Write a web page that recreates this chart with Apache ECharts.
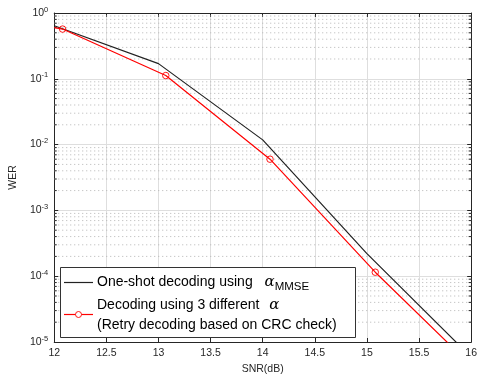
<!DOCTYPE html>
<html><head><meta charset="utf-8">
<script src="https://cdn.jsdelivr.net/npm/echarts@6/dist/echarts.min.js"></script>
<style>html,body{margin:0;padding:0;background:#fff}#c{width:480px;height:380px}</style>
</head><body><div id="c"></div>
<script>
var xTicks = [12, 12.5, 13, 13.5, 14, 14.5, 15, 15.5, 16];
var yDecades = [1e-5, 1e-4, 1e-3, 1e-2, 1e-1, 1];
var minorSteps = [2, 3, 4, 5, 6, 7, 8, 9];
var oneShotSNR = [12, 13, 14, 15, 16];
var oneShotWER = [0.64, 0.17, 0.0118, 2.2e-4, 5.9e-6];
var retrySNR = [12.0, 12.08, 13.07, 14.07, 15.08, 16.08];
var retryWER = [0.60, 0.57, 0.112, 0.0060, 1.15e-4, 3.3e-6];
var name1 = 'One-shot decoding using α_MMSE';
var name2 = 'Decoding using 3 different α';

var minorVals = [];
for (var d = 0; d < yDecades.length - 1; d++) {
  for (var m = 0; m < minorSteps.length; m++) minorVals.push([yDecades[d] * minorSteps[m]]);
}
var axisColor = '#262626';
var font = 'Liberation Sans, Arial, sans-serif';
var lfs = 14;

var chart = echarts.init(document.getElementById('c'), null, {renderer: 'canvas'});
var supLabel = function (v) {
  var e = Math.round(Math.log10(v));
  return '{b|10}{s|' + e + '}';
};
var richY = {
  b: {fontSize: 10.5, color: axisColor, fontFamily: font},
  s: {fontSize: 7.5, color: axisColor, fontFamily: font, verticalAlign: 'top', padding: [0, 0, 7, 0]}
};
chart.setOption({
  animation: false,
  grid: {left: 47, right: 5, top: 13, bottom: 29, containLabel: false},
  xAxis: [{
    type: 'value', min: 12, max: 16, interval: 0.5,
    name: 'SNR(dB)', nameLocation: 'middle', nameGap: 22,
    nameTextStyle: {fontSize: 10.5, color: axisColor, fontFamily: font},
    axisLine: {lineStyle: {color: axisColor, width: 1}},
    axisTick: {inside: true, length: 4, lineStyle: {color: axisColor}},
    axisLabel: {fontSize: 10.5, color: axisColor, fontFamily: font, margin: 6,
      formatter: function (v) { return String(v); }},
    splitLine: {show: true, lineStyle: {color: '#dedede', width: 1}}
  }, {
    type: 'value', min: 12, max: 16, interval: 0.5, position: 'top',
    axisLine: {show: true, lineStyle: {color: axisColor, width: 1}},
    axisTick: {inside: true, length: 4, lineStyle: {color: axisColor}},
    axisLabel: {show: false}, splitLine: {show: false}
  }],
  yAxis: [{
    type: 'log', logBase: 10, min: 1e-5, max: 1, interval: 1,
    name: 'WER', nameLocation: 'middle', nameGap: 25, nameRotate: 90,
    nameTextStyle: {fontSize: 10.5, color: axisColor, fontFamily: font},
    axisLine: {show: true, lineStyle: {color: axisColor, width: 1}},
    axisTick: {inside: true, length: 4, lineStyle: {color: axisColor}},
    axisLabel: {formatter: supLabel, rich: richY, margin: 6},
    splitLine: {show: true, lineStyle: {color: '#dedede', width: 1}}
  }, {
    type: 'log', logBase: 10, min: 1e-5, max: 1, interval: 1, position: 'right',
    axisLine: {show: true, lineStyle: {color: axisColor, width: 1}},
    axisTick: {inside: true, length: 4, lineStyle: {color: axisColor}},
    axisLabel: {show: false}, splitLine: {show: false}
  }],
  graphic: [
    {type: 'rect', z: 100, shape: {x: 60.5, y: 267.5, width: 295, height: 70},
      style: {fill: '#fff', stroke: '#333', lineWidth: 1}},
    {type: 'line', z: 101, shape: {x1: 64, y1: 282.5, x2: 93, y2: 282.5},
      style: {stroke: '#222', lineWidth: 1.2}},
    {type: 'line', z: 101, shape: {x1: 64, y1: 314.5, x2: 93, y2: 314.5},
      style: {stroke: '#ff0000', lineWidth: 1.2}},
    {type: 'circle', z: 102, shape: {cx: 78.5, cy: 314.5, r: 3},
      style: {fill: '#fff', stroke: '#ff0000', lineWidth: 0.9}},
    {type: 'text', z: 102, x: 97, y: 282,
      style: {
        text: '{t|One-shot decoding using }{a|α}{s|MMSE}',
        verticalAlign: 'middle',
        rich: {
          t: {fontSize: lfs, fill: '#000', fontFamily: font, lineHeight: 18},
          a: {fontSize: 15, fill: '#000', fontFamily: 'DejaVu Serif, serif', fontStyle: 'italic', lineHeight: 18, padding: [0, 0, 0, 8]},
          s: {fontSize: 11.5, fill: '#000', fontFamily: font, lineHeight: 18, padding: [9, 0, 0, 0]}
        }
      }},
    {type: 'text', z: 102, x: 97, y: 315,
      style: {
        text: '{t|Decoding using 3 different }{a|α}\n{t|(Retry decoding based on CRC check)}',
        verticalAlign: 'middle',
        rich: {
          t: {fontSize: lfs, fill: '#000', fontFamily: font, lineHeight: 20},
          a: {fontSize: 15, fill: '#000', fontFamily: 'DejaVu Serif, serif', fontStyle: 'italic', lineHeight: 20, padding: [0, 0, 0, 6]}
        }
      }}
  ],
  series: [{
    type: 'custom', silent: true, z: 1,
    coordinateSystem: 'cartesian2d',
    data: minorVals,
    renderItem: function (params, api) {
      var v = api.value(0);
      var p0 = api.coord([12, v]);
      var p1 = api.coord([16, v]);
      return {
        type: 'group', children: [
          {type: 'line', shape: {x1: p0[0], y1: p0[1], x2: p1[0], y2: p1[1]},
            style: {stroke: '#b4b4b4', lineWidth: 1, lineDash: [1, 3]}},
          {type: 'line', shape: {x1: p0[0], y1: p0[1], x2: p0[0] + 2.5, y2: p0[1]},
            style: {stroke: axisColor, lineWidth: 1}},
          {type: 'line', shape: {x1: p1[0], y1: p1[1], x2: p1[0] - 2.5, y2: p1[1]},
            style: {stroke: axisColor, lineWidth: 1}}
        ]
      };
    },
    encode: {y: 0}
  }, {
    name: name1, type: 'line', z: 3,
    data: oneShotSNR.map(function (x, i) { return [x, oneShotWER[i]]; }),
    symbol: 'none', lineStyle: {color: '#222', width: 1.2}, itemStyle: {color: '#222'}
  }, {
    name: name2, type: 'line', z: 4,
    data: retrySNR.map(function (x, i) {
      var it = {value: [x, retryWER[i]]};
      if (i === 0) it.symbol = 'none';
      return it;
    }),
    symbol: 'circle', symbolSize: 6.5, showSymbol: true,
    lineStyle: {color: '#ff0000', width: 1.2},
    itemStyle: {color: 'rgba(255,255,255,0)', borderColor: '#ff0000', borderWidth: 0.9}
  }]
});
</script></body></html>
